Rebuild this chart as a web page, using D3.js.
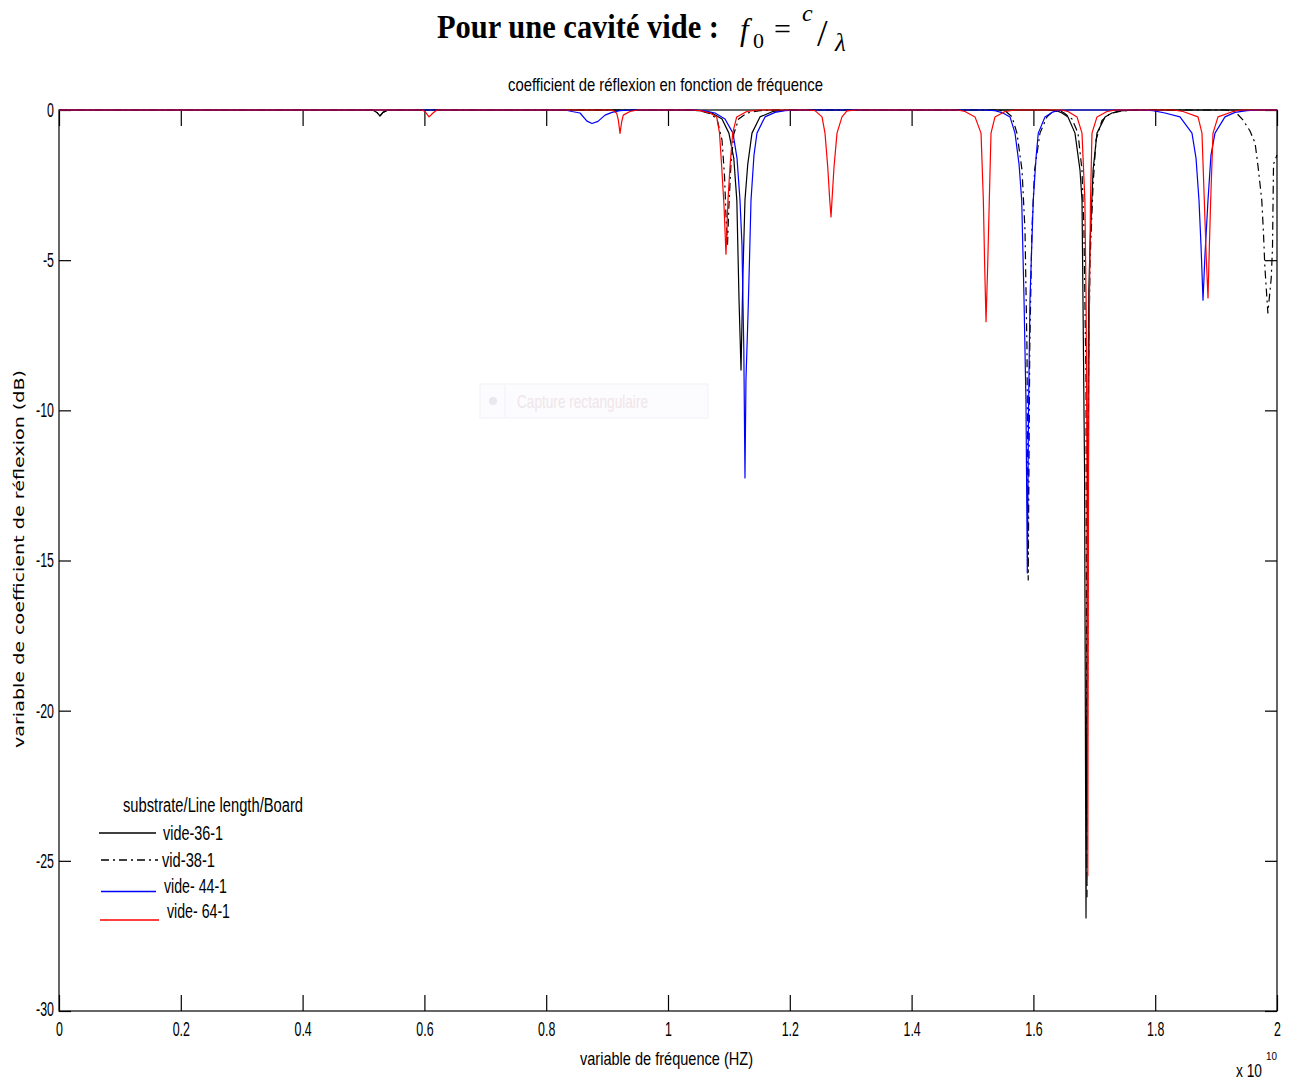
<!DOCTYPE html>
<html>
<head>
<meta charset="utf-8">
<script src="https://cdn.jsdelivr.net/npm/d3@7"></script>
<style>
  html, body { margin: 0; padding: 0; background: #ffffff; }
  svg { display: block; }
  .ml { font-family: "Liberation Sans", Arial, sans-serif; fill: #000; }
</style>
</head>
<body>
<svg id="chart" width="1296" height="1081"></svg>
<script>
// ---------- DATA (frequency in units of 1e10 Hz, reflection coefficient in dB) ----------
const seriesNames = ["vide-36-1", "vid-38-1", "vide- 44-1", "vide- 64-1"];
const legendTitle = "substrate/Line length/Board";

const vide36 = [[0,0],[0.515,0],[0.522,-0.08],[0.527,-0.2],[0.532,-0.08],[0.54,0],
  [1.035,0],[1.0525,-0.02],[1.072,-0.1],[1.0887,-0.3],[1.100,-0.77],[1.108,-1.6],[1.113,-3.0],[1.1166,-6.3],[1.1199,-8.66],[1.123,-5.5],[1.1264,-3.0],[1.131,-1.8],[1.1379,-0.77],[1.151,-0.23],[1.172,-0.05],[1.2,0],
  [1.62,0],[1.6388,-0.03],[1.647,-0.1],[1.6568,-0.23],[1.6683,-0.77],[1.6765,-2.0],[1.6798,-3.0],[1.6814,-6.3],[1.684,-12],[1.6864,-26.9],[1.689,-12],[1.691,-6],[1.693,-4.5],[1.698,-2.0],[1.7044,-0.77],[1.7176,-0.23],[1.729,-0.1],[1.742,-0.03],[1.77,0],[2,0]];

const vid38 = [[0,0],[0.515,0],[0.522,-0.08],[0.527,-0.2],[0.532,-0.08],[0.54,0],
  [1.035,0],[1.0525,-0.03],[1.069,-0.12],[1.0805,-0.3],[1.0887,-1.0],[1.0928,-2.2],[1.0952,-3.5],[1.0977,-4.5],[1.100,-3.2],[1.1034,-1.8],[1.108,-0.8],[1.116,-0.3],[1.130,-0.1],[1.151,-0.02],[1.18,0],
  [1.54,0],[1.555,-0.05],[1.5649,-0.23],[1.573,-0.77],[1.5813,-2.0],[1.5862,-4],[1.5895,-8],[1.5915,-15.65],[1.594,-8],[1.5975,-4],[1.602,-2],[1.6108,-0.77],[1.6223,-0.23],[1.632,-0.05],
  [1.645,-0.04],[1.6519,-0.12],[1.6634,-0.3],[1.6732,-0.77],[1.6798,-2],[1.683,-4],[1.6864,-9],[1.688,-26.2],[1.6905,-9],[1.693,-5],[1.698,-2.5],[1.7028,-1.0],[1.7126,-0.35],[1.7258,-0.12],[1.7455,-0.03],[1.77,0],
  [1.915,0],[1.931,-0.05],[1.944,-0.33],[1.9557,-0.7],[1.964,-1.1],[1.969,-1.9],[1.975,-3.0],[1.9778,-4.1],[1.980,-5.2],[1.985,-6.76],[1.9905,-5.6],[1.9926,-4.6],[1.9943,-1.8],[2.0,-1.5]];

const vide44 = [[0,0],[0.831,0],[0.8424,-0.05],[0.8555,-0.1],[0.867,-0.37],[0.8752,-0.45],[0.885,-0.38],[0.8966,-0.17],[0.908,-0.08],[0.9212,-0.02],[0.94,0],
  [1.045,0],[1.0608,-0.03],[1.0772,-0.1],[1.0936,-0.3],[1.1067,-0.77],[1.1133,-1.6],[1.1182,-3.0],[1.1215,-4.5],[1.1245,-8],[1.1264,-12.25],[1.128,-9],[1.1314,-6.8],[1.1338,-5],[1.1363,-3.0],[1.1412,-1.5],[1.1461,-0.77],[1.1593,-0.23],[1.1757,-0.08],[1.1921,-0.02],[1.21,0],
  [1.52,0],[1.537,-0.02],[1.55,-0.1],[1.5616,-0.23],[1.5698,-0.77],[1.5764,-1.8],[1.5808,-3.0],[1.5846,-6.3],[1.5878,-9.7],[1.59,-15.42],[1.592,-10],[1.5944,-6.3],[1.5998,-3],[1.6043,-1.6],[1.608,-0.77],[1.619,-0.23],[1.6305,-0.08],[1.6388,-0.02],[1.66,0],
  [1.78,0],[1.7964,-0.02],[1.816,-0.1],[1.8407,-0.23],[1.8604,-0.77],[1.867,-1.6],[1.8719,-3.0],[1.8752,-4.5],[1.8785,-6.33],[1.8818,-4.8],[1.8867,-3.0],[1.8916,-1.5],[1.8982,-0.77],[1.9146,-0.23],[1.931,-0.08],[1.9507,-0.02],[1.97,0],[2,0]];

const vide64 = [[0,0],[0.596,0],[0.601,-0.05],[0.6076,-0.23],[0.6141,-0.1],[0.6207,0],
  [0.905,0],[0.9102,-0.02],[0.9158,-0.11],[0.9184,-0.33],[0.9212,-0.78],[0.924,-0.39],[0.9266,-0.17],[0.9376,-0.05],[0.95,0],
  [1.04,0],[1.0525,-0.02],[1.069,-0.1],[1.08,-0.23],[1.0846,-0.77],[1.0882,-1.9],[1.092,-3.2],[1.0952,-4.8],[1.0985,-3.0],[1.1018,-1.9],[1.1062,-0.77],[1.1128,-0.23],[1.1293,-0.05],[1.15,0],
  [1.23,0],[1.2414,-0.02],[1.2529,-0.23],[1.2578,-0.77],[1.2623,-1.9],[1.2656,-3.0],[1.2677,-3.56],[1.2693,-3.0],[1.2726,-1.9],[1.2775,-0.77],[1.2857,-0.23],[1.2939,-0.03],[1.31,0],
  [1.475,0],[1.4877,-0.05],[1.5041,-0.23],[1.514,-0.77],[1.5178,-3.0],[1.52,-5.2],[1.5222,-7.05],[1.5249,-5.2],[1.5276,-3.0],[1.5304,-0.77],[1.5369,-0.23],[1.5534,-0.05],[1.57,0],
  [1.645,0],[1.6568,-0.05],[1.6716,-0.23],[1.6798,-0.77],[1.6845,-3.0],[1.6865,-6.3],[1.688,-12],[1.6893,-25.5],[1.6905,-12],[1.692,-6.3],[1.6938,-3.0],[1.6962,-0.77],[1.7044,-0.23],[1.7209,-0.05],[1.735,0],
  [1.83,0],[1.8456,-0.05],[1.8703,-0.23],[1.8768,-0.77],[1.8806,-3.0],[1.884,-5],[1.8867,-6.26],[1.889,-4.5],[1.8911,-3.0],[1.8949,-0.77],[1.9031,-0.23],[1.9278,-0.05],[1.94,0],[2,0]];

const xTicks = [0, 0.2, 0.4, 0.6, 0.8, 1, 1.2, 1.4, 1.6, 1.8, 2];
const xTickLabels = ["0", "0.2", "0.4", "0.6", "0.8", "1", "1.2", "1.4", "1.6", "1.8", "2"];
const yTicks = [0, -5, -10, -15, -20, -25, -30];
const yTickLabels = ["0", "-5", "-10", "-15", "-20", "-25", "-30"];

// ---------- LAYOUT ----------
const L = 59, R = 1277, T = 110, B = 1011;
const svg = d3.select("#chart");
const x = d3.scaleLinear().domain([0, 2]).range([L, R]);
const y = d3.scaleLinear().domain([-30, 0]).range([B, T]);

function squeeze(sel, k) {
  sel.each(function () {
    const w = this.getComputedTextLength();
    this.setAttribute("textLength", w * k);
    this.setAttribute("lengthAdjust", "spacingAndGlyphs");
  });
}
function fitWidth(sel, w) {
  sel.attr("textLength", w).attr("lengthAdjust", "spacingAndGlyphs");
}

// ---------- HEADER ----------
const hdr = svg.append("g").attr("font-family", "'Liberation Serif', 'Times New Roman', serif");
hdr.append("text").attr("x", 437).attr("y", 38).attr("font-size", 30).attr("font-weight", "bold")
  .attr("transform", "translate(437,38) scale(1,1.1) translate(-437,-38)")
  .text("Pour une cavité vide :").call(fitWidth, 282);
hdr.append("text").attr("x", 740).attr("y", 40).attr("font-size", 31).attr("font-style", "italic").text("f");
hdr.append("text").attr("x", 753).attr("y", 48).attr("font-size", 22).text("0");
hdr.append("text").attr("x", 774).attr("y", 39).attr("font-size", 30).text("=");
hdr.append("text").attr("x", 802).attr("y", 21).attr("font-size", 24).attr("font-style", "italic").text("c");
hdr.append("text").attr("x", 817).attr("y", 46).attr("font-size", 38).text("/");
hdr.append("text").attr("x", 835).attr("y", 51).attr("font-size", 25).attr("font-style", "italic").text("λ");

// ---------- PLOT TITLE ----------
svg.append("text").attr("class", "ml").attr("x", 508).attr("y", 91).attr("font-size", 19)
  .text("coefficient de réflexion en fonction de fréquence").call(fitWidth, 315);

// ---------- AXES BOX ----------
svg.append("rect").attr("x", L).attr("y", T).attr("width", R - L).attr("height", B - T)
  .attr("fill", "none").attr("stroke", "#000").attr("stroke-width", 1.2);

const gxB = svg.append("g").attr("transform", `translate(0,${B})`)
  .call(d3.axisBottom(x).tickValues(xTicks).tickSize(-16).tickPadding(11)
    .tickFormat((d, i) => xTickLabels[i]));
const gxT = svg.append("g").attr("transform", `translate(0,${T})`)
  .call(d3.axisTop(x).tickValues(xTicks).tickSize(-16).tickFormat(""));
const gyL = svg.append("g").attr("transform", `translate(${L},0)`)
  .call(d3.axisLeft(y).tickValues(yTicks).tickSize(-12).tickPadding(5)
    .tickFormat((d, i) => yTickLabels[i]));
const gyR = svg.append("g").attr("transform", `translate(${R},0)`)
  .call(d3.axisRight(y).tickValues(yTicks).tickSize(-12).tickFormat(""));

[gxB, gxT, gyL, gyR].forEach(g => {
  g.select(".domain").remove();
  g.selectAll("line").attr("stroke", "#000").attr("stroke-width", 1.2);
  g.selectAll("text").attr("class", "ml").attr("font-family", null).attr("font-size", 20).attr("fill", "#000");
});
gxB.selectAll("text").call(squeeze, 0.62);
gyL.selectAll("text").call(squeeze, 0.62);
gyL.selectAll(".tick").filter(d => d === -30).select("text").attr("dy", "0.2em");

// ---------- AXIS LABELS ----------
svg.append("text").attr("class", "ml").attr("x", 580).attr("y", 1065).attr("font-size", 19)
  .text("variable de fréquence (HZ)").call(fitWidth, 173);
svg.append("text").attr("class", "ml").attr("x", 1236).attr("y", 1077).attr("font-size", 19)
  .text("x 10").call(fitWidth, 26);
svg.append("text").attr("class", "ml").attr("x", 1266).attr("y", 1060).attr("font-size", 11)
  .text("10").call(fitWidth, 11);
svg.append("text").attr("font-family", "'DejaVu Sans', Verdana, sans-serif").attr("font-size", 14)
  .attr("text-anchor", "middle").attr("transform", "translate(24,559) rotate(-90)")
  .text("variable de coefficient de réflexion (dB)").call(fitWidth, 378);

// ---------- SCREEN-CAPTURE OVERLAY ARTIFACT ----------
const cap = svg.append("g").attr("opacity", 0.9);
cap.append("rect").attr("x", 480).attr("y", 384).attr("width", 228).attr("height", 34)
  .attr("fill", "#fcfcfe").attr("stroke", "#f1f2f6");
cap.append("line").attr("x1", 505).attr("x2", 505).attr("y1", 385).attr("y2", 417).attr("stroke", "#f1f2f6");
cap.append("circle").attr("cx", 493).attr("cy", 401).attr("r", 4).attr("fill", "#e6e6ee");
cap.append("text").attr("class", "ml").attr("x", 517).attr("y", 408).attr("font-size", 19)
  .style("fill", "#efe3e7").text("Capture rectangulaire").call(fitWidth, 131);

// ---------- CURVES ----------
const line = d3.line().x(d => x(d[0])).y(d => y(d[1]));
const series = [
  { data: vide36, color: "#000000", dash: null, w: 1.2 },
  { data: vid38, color: "#000000", dash: "8,4,2,4", w: 1.2 },
  { data: vide44, color: "#0000ff", dash: null, w: 1.2 },
  { data: vide64, color: "#ff0000", dash: null, w: 1.2 }
];
series.forEach(s => {
  svg.append("path").datum(s.data).attr("d", line).attr("fill", "none")
    .attr("stroke", s.color).attr("stroke-width", s.w)
    .attr("stroke-dasharray", s.dash).attr("stroke-linejoin", "round");
});

// ---------- LEGEND ----------
const leg = svg.append("g");
leg.append("text").attr("class", "ml").attr("x", 123).attr("y", 812).attr("font-size", 20)
  .text(legendTitle).call(fitWidth, 180);
const legLines = [
  { x1: 99, x2: 156, y: 833, tx: 163, ty: 840, tw: 60 },
  { x1: 101, x2: 158, y: 860, tx: 162, ty: 867, tw: 53 },
  { x1: 101, x2: 156, y: 891.5, tx: 164, ty: 893, tw: 63 },
  { x1: 100, x2: 159, y: 920, tx: 167, ty: 918, tw: 63 }
];
legLines.forEach((p, i) => {
  const s = series[i];
  leg.append("line").attr("x1", p.x1).attr("x2", p.x2).attr("y1", p.y).attr("y2", p.y)
    .attr("stroke", s.color).attr("stroke-width", i === 3 ? 1.6 : 1.3).attr("stroke-dasharray", s.dash);
  leg.append("text").attr("class", "ml").attr("x", p.tx).attr("y", p.ty).attr("font-size", 20)
    .text(seriesNames[i]).call(fitWidth, p.tw);
});
</script>
</body>
</html>
